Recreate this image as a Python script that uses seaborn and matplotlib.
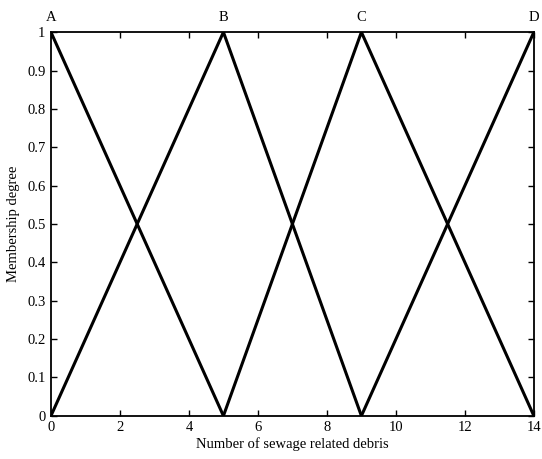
import matplotlib
matplotlib.use("Agg")
import matplotlib.pyplot as plt
import seaborn as sns
import pandas as pd

# membership functions (triangular), breakpoints
labels = ["A", "B", "C", "D"]
peaks = [0, 5, 9, 14]
x_A = [0, 5]
y_A = [1, 0]
x_B = [0, 5, 9]
y_B = [0, 1, 0]
x_C = [5, 9, 14]
y_C = [0, 1, 0]
x_D = [9, 14]
y_D = [0, 1]

xs = [x_A, x_B, x_C, x_D]
ys = [y_A, y_B, y_C, y_D]

rows = []
for lab, xx, yy in zip(labels, xs, ys):
    for a, b in zip(xx, yy):
        rows.append({"set": lab, "x": a, "y": b})
df = pd.DataFrame(rows)

sns.set_style("ticks")
plt.rcParams["font.family"] = ["Liberation Serif", "DejaVu Serif"]
plt.rcParams["text.color"] = "black"
plt.rcParams["axes.labelcolor"] = "black"
plt.rcParams["xtick.color"] = "black"
plt.rcParams["ytick.color"] = "black"

fig = plt.figure(figsize=(5.42, 4.59), dpi=100)
ax = fig.add_axes([0.094, 0.094, 0.891, 0.836])

sns.lineplot(data=df, x="x", y="y", units="set", estimator=None,
             color="black", linewidth=2.2, sort=False, ax=ax)

ax.set_xlim(0, 14)
ax.set_ylim(0, 1)
ax.set_xticks(range(0, 15, 2))
ax.set_yticks([i / 10 for i in range(11)])
ax.set_yticklabels(["0"] + ["%.1f" % (i / 10) for i in range(1, 10)] + ["1"])
ax.tick_params(direction="in", top=True, right=True, labelsize=10.5,
               length=4, width=1, colors="black", pad=4)
for s in ax.spines.values():
    s.set_linewidth(1.3)
    s.set_color("black")

for lab, p in zip(labels, peaks):
    ax.text(p, 1.02, lab, ha="center", va="bottom", fontsize=10.5)

ax.set_xlabel("Number of sewage related debris", fontsize=10.5, labelpad=2)
ax.set_ylabel("Membership degree", fontsize=10.5, labelpad=5)

fig.savefig("out.png", dpi=100)
